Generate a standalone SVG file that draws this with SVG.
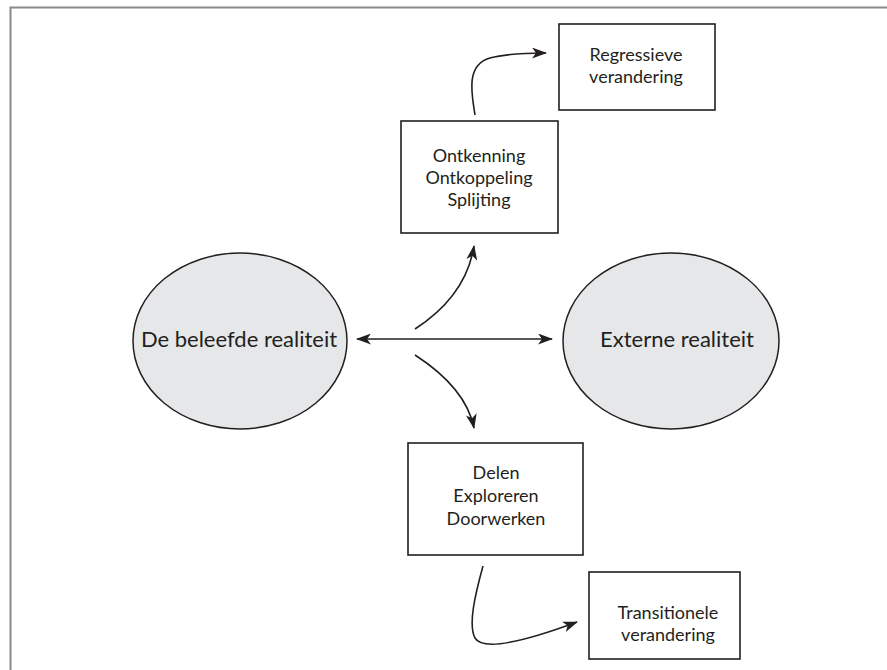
<svg xmlns="http://www.w3.org/2000/svg" width="887" height="670" viewBox="0 0 887 670">
<style>
.frame{fill:none;stroke:#8a8a8a;stroke-width:2}
.box{fill:#fff;stroke:#231f20;stroke-width:1.6}
.ell{fill:#e6e7e9;stroke:#231f20;stroke-width:1.5}
.t{font-family:Lato,"Open Sans","Liberation Sans",sans-serif;fill:#231f20;text-anchor:middle}
.s{font-size:18px}
.b{font-size:22px}
.c{fill:none;stroke:#231f20;stroke-width:1.6}
</style>
<defs>
<marker id="ah" viewBox="0 0 15 11" refX="14" refY="5.5" markerWidth="15" markerHeight="11" markerUnits="userSpaceOnUse" orient="auto-start-reverse">
<path d="M0,0 L15,5.5 L0,11 L4,5.5 Z" fill="#231f20"/>
</marker>
</defs>
<rect width="887" height="670" fill="#fff"/>
<path class="frame" d="M10.5,670 V7.5 H887"/>
<g id="beleefde">
<ellipse class="ell" cx="240" cy="341" rx="107" ry="88"/>
<text class="t b" x="239" y="347">De beleefde realiteit</text>
</g>
<g id="externe">
<ellipse class="ell" cx="671" cy="341" rx="108" ry="88"/>
<text class="t b" x="677" y="347">Externe realiteit</text>
</g>
<g id="regressieve">
<rect class="box" x="559" y="24" width="156" height="86"/>
<text class="t s" x="636" y="61">Regressieve</text>
<text class="t s" x="636" y="83">verandering</text>
</g>
<g id="ontkenning">
<rect class="box" x="401" y="121" width="157" height="112"/>
<text class="t s" x="479" y="162">Ontkenning</text>
<text class="t s" x="479" y="184">Ontkoppeling</text>
<text class="t s" x="479" y="206">Splijting</text>
</g>
<g id="delen">
<rect class="box" x="408" y="443" width="175" height="112"/>
<text class="t s" x="496" y="479">Delen</text>
<text class="t s" x="496" y="502">Exploreren</text>
<text class="t s" x="496" y="525">Doorwerken</text>
</g>
<g id="transitionele">
<rect class="box" x="589" y="572" width="151" height="87"/>
<text class="t s" x="668" y="619">Transitionele</text>
<text class="t s" x="668" y="641">verandering</text>
</g>
<g id="connectors">
<path class="c" d="M357,339 H552" marker-start="url(#ah)" marker-end="url(#ah)"/>
<path class="c" d="M415,329 Q466,296 474,246" marker-end="url(#ah)"/>
<path class="c" d="M415,355 Q466,388 474,428" marker-end="url(#ah)"/>
<path class="c" d="M475,115 C472,95 465,65 490,58 C505,54 525,53 546,53" marker-end="url(#ah)"/>
<path class="c" d="M483,566 C475,595 468,625 475,638 C482,650 515,645 577,622" marker-end="url(#ah)"/>
</g>
</svg>
